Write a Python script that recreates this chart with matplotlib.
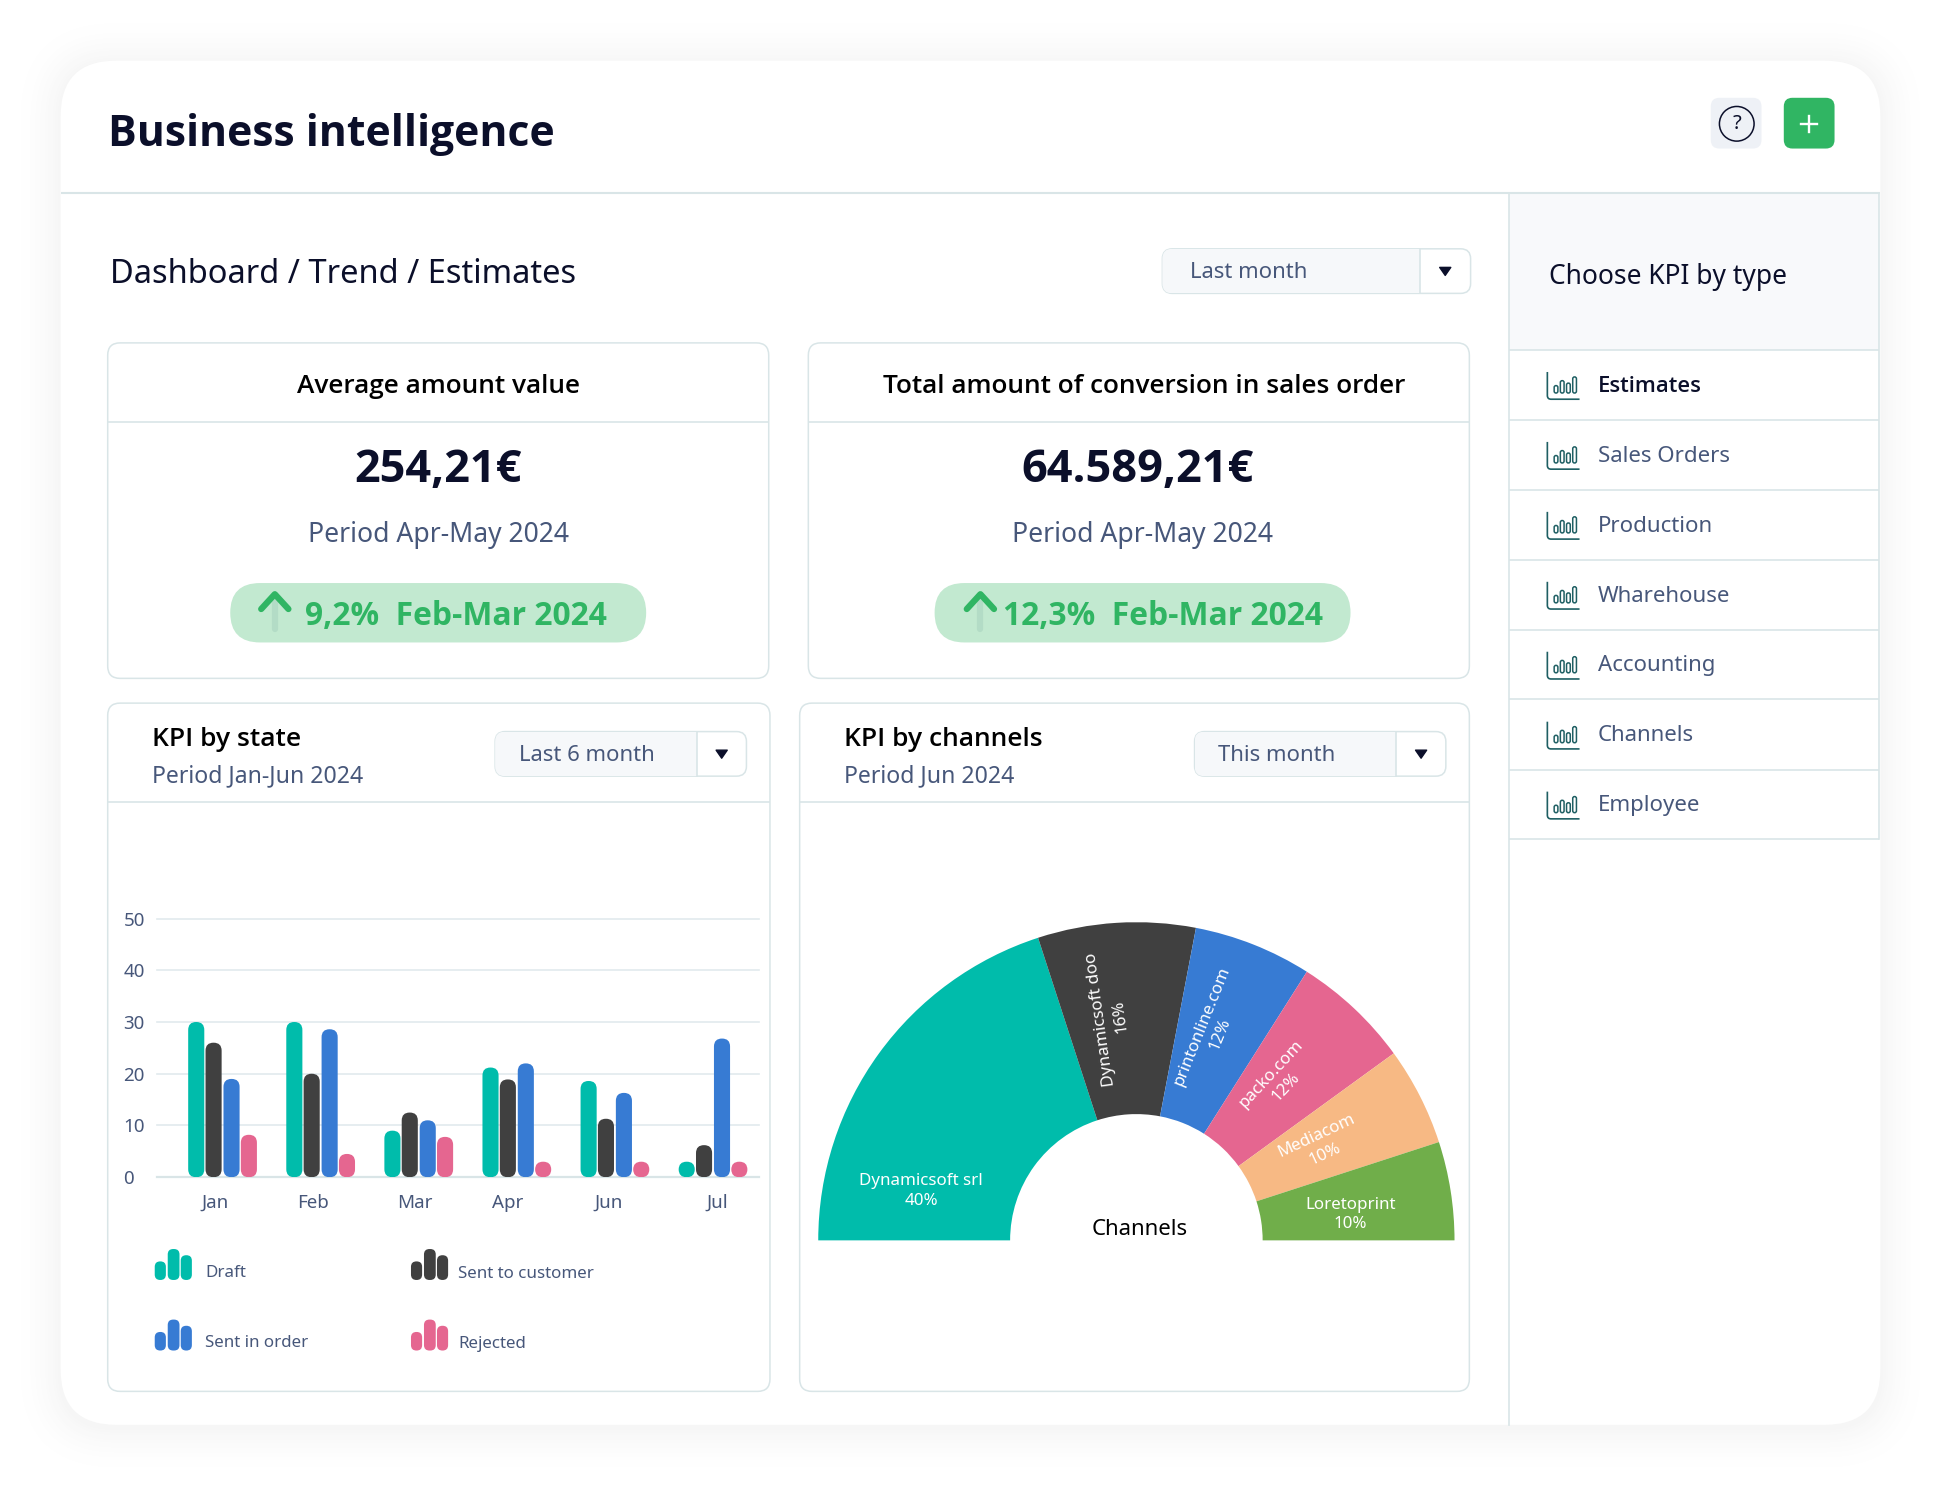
import matplotlib
matplotlib.use('Agg')
import matplotlib.pyplot as plt
from matplotlib.patches import FancyBboxPatch, Circle, Polygon, PathPatch
from matplotlib.path import Path
import numpy as np

plt.rcParams['font.family'] = ['Noto Sans', 'DejaVu Sans']

# chart values
months = ['Jan', 'Feb', 'Mar', 'Apr', 'Jun', 'Jul']
draft = [30, 30, 9, 21.2, 18.6, 3]
sent_customer = [26, 20, 12.5, 18.9, 11.3, 6.2]
sent_order = [19, 28.6, 11, 22, 16.3, 26.8]
rejected = [8.2, 4.5, 7.8, 3, 3, 3]
state_names = ['Draft', 'Sent to customer', 'Sent in order', 'Rejected']
y_ticks = [0, 10, 20, 30, 40, 50]
month_tick_pos = [-0.07, 0.93, 1.96, 2.91, 3.94, 5.05]

channels = ['Dynamicsoft srl', 'Dynamicsoft doo', 'printonline.com', 'packo.com', 'Mediacom', 'Loretoprint']
channel_shares = [40, 16, 12, 12, 10, 10]
channel_rot = [0, 98, 68, 47, 25, 0]

kpi_types = ['Estimates', 'Sales Orders', 'Production', 'Wharehouse', 'Accounting', 'Channels', 'Employee']

TEAL = '#00bcab'
DARK = '#404040'
BLUE = '#377bd3'
PINK = '#e56690'
ORANGE = '#f7b984'
LEAF = '#70ae4a'
GREEN = '#30b563'
INK = '#0b0f2a'
SLATE = '#47577a'
LINE = '#d9e5e7'
BOLD = ['Open Sans', 'DejaVu Sans']

W, H = 1568, 1486 * 1568 / 1941

fig = plt.figure(figsize=(19.41, 14.86), dpi=100, facecolor='white')
ax = fig.add_axes([0, 0, 1, 1])
ax.set_xlim(0, W)
ax.set_ylim(H, 0)
ax.axis('off')


def rrect(x0, y0, x1, y1, r, fc='white', ec='none', lw=1.1, z=2):
    p = FancyBboxPatch((x0, y0), x1 - x0, y1 - y0, boxstyle='round,pad=0,rounding_size=%g' % r,
                       fc=fc, ec=ec, lw=lw, zorder=z)
    ax.add_patch(p)
    return p


def hline(x0, x1, y, c=LINE, lw=1.2, z=3):
    ax.plot([x0, x1], [y, y], color=c, lw=lw, zorder=z, solid_capstyle='butt')


def txt(x, y, s, size, c=INK, weight='normal', ha='left', z=6):
    fam = BOLD if weight != 'normal' else None
    ax.text(x, y + 2, s, fontsize=size, color=c, fontweight=weight, family=fam, ha=ha, va='center', zorder=z)


def dropdown(x0, x1, xdiv, y0, y1, label, lx):
    rrect(x0, y0, x1, y1, 8, fc='white', ec=LINE)
    # grey left part, clipped to the box shape
    box = rrect(x0, y0, x1, y1, 8, fc='#f6f8fa', ec='none', z=2.5)
    strip = ax.fill_between([x0, xdiv], y0, y1, color='#f6f8fa', zorder=2.6, lw=0)
    strip.set_clip_path(box)
    box.set_visible(False)
    ax.plot([xdiv, xdiv], [y0, y1], color=LINE, lw=1.2, zorder=3)
    txt(lx, (y0 + y1) / 2 - 1, label, 15.9, SLATE)
    xc = (xdiv + x1) / 2
    yc = (y0 + y1) / 2
    ax.add_patch(Polygon([[xc - 4.5, yc - 3], [xc + 4.5, yc - 3], [xc, yc + 3.5]], fc=INK, ec=INK,
                         lw=1, joinstyle='round', zorder=5))


def kpi_card(x0, x1, title, tx, value, vx, px, pill0, pill1, arrow_x, delta, dx):
    rrect(x0, 277, x1, 548, 10, ec=LINE)
    hline(x0, x1, 341)
    txt(tx, 310, title, 18.9, 'black', 'semibold', ha='center')
    txt(vx, 378, value, 32.5, INK, 'bold', ha='center')
    txt(px, 430, 'Period Apr-May 2024', 19.1, SLATE, ha='center')
    rrect(pill0, 471, pill1, 519, 24, fc='#c2e9d0')
    ax.plot([arrow_x, arrow_x], [486, 508], color='#b3dcc6', lw=4.5, solid_capstyle='round', zorder=4)
    ax.plot([arrow_x - 11, arrow_x, arrow_x + 11], [492, 480, 492], color=GREEN, lw=4.5,
            solid_capstyle='round', solid_joinstyle='round', zorder=5)
    txt(dx, 496, delta, 22.9, GREEN, 'bold')


def kpi_icon(y):
    verts = [(1250, y - 9), (1250, y + 10), (1250, y + 13), (1253, y + 13), (1276, y + 13)]
    codes = [Path.MOVETO, Path.LINETO, Path.CURVE3, Path.CURVE3, Path.LINETO]
    ax.add_patch(PathPatch(Path(verts, codes), fc='none', ec='#1f5f63', lw=1.2, zorder=4))
    for bx, bh in zip([1255.5, 1260.5, 1265.5, 1270.5], [6, 10, 8, 13]):
        rrect(bx, y + 8 - bh, bx + 3, y + 8, 1.5, fc='none', ec='#1f5f63', lw=1.1, z=4)


def legend_icon(x, y, c):
    for off, w, top in zip([0, 10.5, 21], [9, 9.5, 9], [10, 0, 5]):
        rrect(x + off, y + top, x + off + w, y + 25, 4.4, fc=c, z=4)


# outer shadow, then the white sheet
for i, g in zip(range(40, 0, -2), 1 - 0.035 * np.linspace(0.05, 1, 20) ** 2):
    rrect(49 - i, 49 - i + 2, 1519 + i, 1151 + i + 2, 45 + i, fc=(g, g, g), z=0.5)
rrect(49, 49, 1519, 1151, 45, z=1)

# header
hline(49, 1519, 156, lw=1.5)
txt(87, 107, 'Business intelligence', 30.8, INK, 'bold')
rrect(1382, 79, 1423, 120, 7, fc='#eef1f6')
ax.add_patch(Circle((1403, 100), 14, fc='none', ec=INK, lw=1.1, zorder=4))
txt(1403, 98, '?', 14.5, INK, ha='center')
rrect(1441, 79, 1482, 120, 7, fc=GREEN)
ax.plot([1455, 1468], [100, 100], color='white', lw=1.7, zorder=4)
ax.plot([1461.5, 1461.5], [93.5, 106.5], color='white', lw=1.7, zorder=4)

# right side panel
ax.fill_between([1219, 1518], 157, 283, color='#f8f9fb', lw=0, zorder=2)
ax.plot([1219, 1219], [156, 1151], color=LINE, lw=1.2, zorder=3)
ax.plot([1518, 1518], [156, 678], color=LINE, lw=1.2, zorder=3)
txt(1251, 222, 'Choose KPI by type', 19, INK)
row_y = [283, 339, 396, 452, 509, 565, 622, 678]
for r in row_y:
    hline(1219, 1518, r)
for i, name in enumerate(kpi_types):
    yc = (row_y[i] + row_y[i + 1]) / 2
    kpi_icon(yc - 1.5)
    if i == 0:
        txt(1291, yc - 1, name, 15.8, INK, 'semibold')
    else:
        txt(1291, yc - 1, name, 16, SLATE)

# breadcrumb row
txt(89, 220, 'Dashboard / Trend / Estimates', 23.5, INK)
dropdown(939, 1188, 1147, 201, 237, 'Last month', 961)

# KPI cards
kpi_card(87, 621, 'Average amount value', 354, '254,21€', 354, 354, 186, 522, 222, '9,2%  Feb-Mar 2024', 246)
kpi_card(653, 1187, 'Total amount of conversion in sales order', 924, '64.589,21€', 919, 923, 755, 1091, 792,
         '12,3%  Feb-Mar 2024', 810)

# chart cards
rrect(87, 568, 622, 1124, 10, ec=LINE)
hline(87, 622, 648)
txt(123, 595, 'KPI by state', 19, 'black', 'semibold')
txt(123, 625, 'Period Jan-Jun 2024', 16.6, SLATE)
dropdown(400, 603, 563, 591, 627, 'Last 6 month', 419)

rrect(646, 568, 1187, 1124, 10, ec=LINE)
hline(646, 1187, 648)
txt(682, 595, 'KPI by channels', 19, 'black', 'semibold')
txt(682, 625, 'Period Jun 2024', 16.6, SLATE)
dropdown(965, 1168, 1128, 591, 627, 'This month', 984)

# grouped bars
bx = fig.add_axes([127 / W, 1 - 951 / H, (613 - 127) / W, (951 - 742) / H])
bx.patch.set_alpha(0)
group_px = 79.2
bx.set_xlim(-0.663, 5.47)
bx.set_ylim(0, 50)
for s in bx.spines.values():
    s.set_visible(False)
bx.set_yticks(y_ticks)
bx.set_xticks(month_tick_pos)
bx.set_xticklabels(months)
bx.tick_params(length=0, labelcolor=SLATE, labelsize=13.5)
bx.tick_params(axis='x', pad=12)
bx.tick_params(axis='y', pad=0)
for lab in bx.get_yticklabels():
    lab.set_ha('left')
    lab.set_x(-0.056)
bx.grid(axis='y', color='#e2eaed', lw=1.2, clip_on=False)
bx.axhline(0, color=LINE, lw=1.6, clip_on=False, zorder=1)
bx.set_axisbelow(True)

bar_w = 13 / group_px
offsets = np.array([-21, -7, 7.5, 21.5]) / group_px
px_per_val = (951 - 742) / 50
aspect = group_px / px_per_val
x = np.arange(len(months))
for vals, off, c in zip([draft, sent_customer, sent_order, rejected], offsets, [TEAL, DARK, BLUE, PINK]):
    for rect in bx.bar(x + off, vals, bar_w, color=c):
        rect.set_visible(False)
        bx.add_patch(FancyBboxPatch((rect.get_x(), 0), rect.get_width(), rect.get_height(),
                                    boxstyle='round,pad=0,rounding_size=%g' % (6.4 / group_px),
                                    mutation_aspect=aspect, fc=c, ec='none', zorder=3))

# hand made legend
legend_icon(125, 1009, TEAL)
txt(166, 1026, state_names[0], 12.2, SLATE)
legend_icon(332, 1009, DARK)
txt(370, 1027, state_names[1], 12.2, SLATE)
legend_icon(125, 1066, BLUE)
txt(166, 1083, state_names[2], 12.2, SLATE)
legend_icon(332, 1066, PINK)
txt(370, 1084, state_names[3], 12.2, SLATE)

# half donut
R = 257
px = fig.add_axes([(918 - R) / W, 1 - (1002 + R) / H, 2 * R / W, 2 * R / H])
wedges, _ = px.pie(np.array(channel_shares) / 200, normalize=False, startangle=180, counterclock=False,
                   colors=[TEAL, DARK, BLUE, PINK, ORANGE, LEAF], radius=1,
                   wedgeprops={'width': 1 - 102 / R, 'linewidth': 0})
px.set_xlim(-1, 1)
px.set_ylim(-1, 1)
px.patch.set_alpha(0)

label_xy = [(744, 962), (897, 822), (978, 832), (1033, 873), (1067, 925), (1091, 981)]
for name, share, rot, (lx, ly) in zip(channels, channel_shares, channel_rot, label_xy):
    px.text(lx, ly, '%s\n%d%%' % (name, share), transform=ax.transData, color='white', fontsize=12.2,
            ha='center', va='center', rotation=rot, rotation_mode='anchor', linespacing=1.3)
px.text(921, 993, 'Channels', transform=ax.transData, color='black', fontsize=16, ha='center', va='center')

fig.savefig('out.png', dpi=100)
